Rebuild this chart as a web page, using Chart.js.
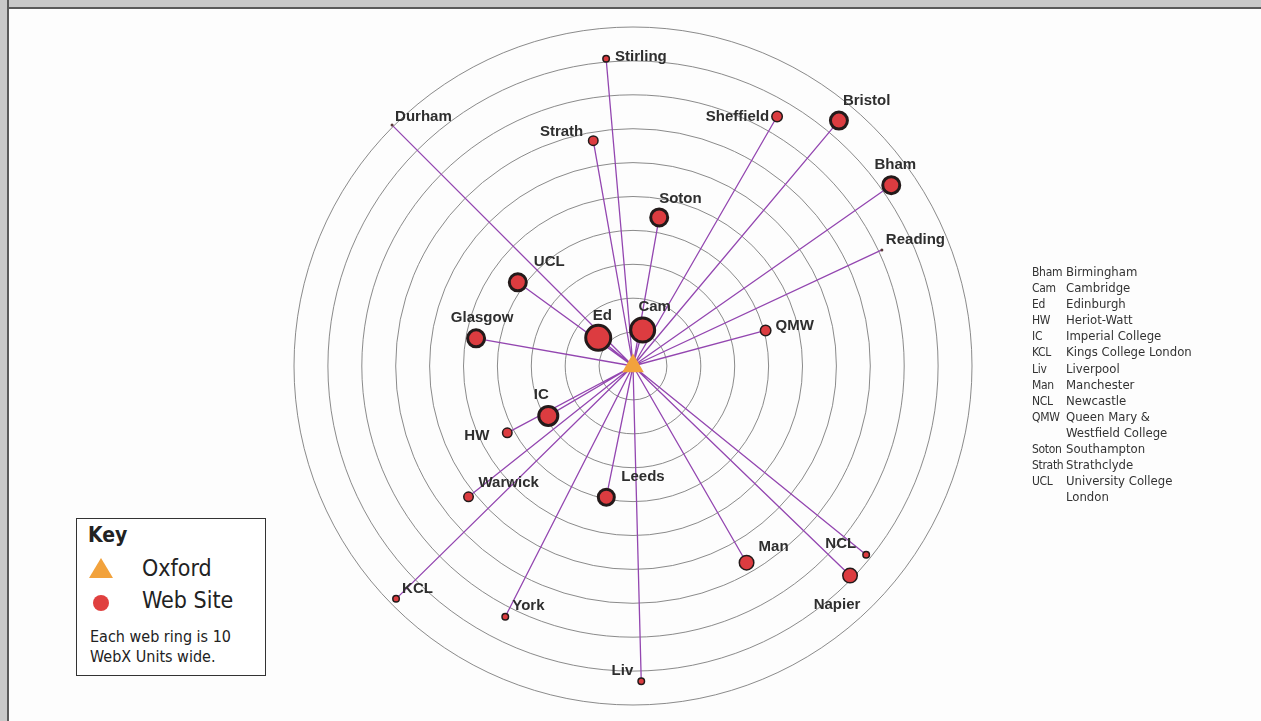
<!DOCTYPE html>
<html>
<head>
<meta charset="utf-8">
<title>Web rings around Oxford</title>
<script src="https://cdn.jsdelivr.net/npm/chart.js@4.4.1/dist/chart.umd.min.js"></script>
<style>
  html, body { margin: 0; padding: 0; background: #fff; }
  #page { position: relative; width: 1261px; height: 721px; overflow: hidden; background: #fdfdfd; }
  #chart { position: absolute; left: 0; top: 0; }
  .band-top { position: absolute; left: 0; top: 0; width: 1261px; height: 7px; background: #c9c9c9; border-bottom: 2px solid #5a5a5a; }
  .band-left { position: absolute; left: 0; top: 0; width: 7px; height: 721px; background: #c9c9c9; border-right: 2px solid #5a5a5a; }
  #key { position: absolute; left: 76px; top: 518px; width: 188px; height: 156px; border: 1.5px solid #333; background: #fff;
         font-family: "DejaVu Sans Condensed", "Liberation Sans Narrow", sans-serif; color: #222; }
  #key .title { position: absolute; left: 11px; top: 4px; font-weight: bold; font-size: 21px; }
  #key .row { position: absolute; left: 65px; font-size: 23px; }
  #key .note { position: absolute; left: 13px; top: 108px; font-size: 16px; line-height: 20px; }
  #key svg { position: absolute; left: 0; top: 0; }
  #abbr { position: absolute; left: 1032px; top: 264px; display: grid; grid-template-columns: 34px auto;
          font-family: "DejaVu Sans Condensed", "Liberation Sans Narrow", sans-serif; font-size: 13px; line-height: 16.1px; color: #333; }
  #abbr .code { font-size: 12px; letter-spacing: -0.3px; }
</style>
</head>
<body>
<div id="page">
  <canvas id="chart" width="1261" height="721"></canvas>
  <div class="band-top"></div>
  <div class="band-left"></div>
  <div id="key">
    <svg width="188" height="156">
      <polygon points="24,39 12,59 36,59" fill="#f2a23c"/>
      <circle cx="24" cy="84" r="8" fill="#e0403f"/>
    </svg>
    <div class="title">Key</div>
    <div class="row" style="top:36px">Oxford</div>
    <div class="row" style="top:68px">Web Site</div>
    <div class="note">Each web ring is 10<br>WebX Units wide.</div>
  </div>
  <div id="abbr"></div>
</div>

<script>
// ── Data ──
const siteNames = ["Stirling", "Durham", "Strath", "Sheffield", "Bristol", "Bham", "Reading", "Soton",
  "UCL", "Glasgow", "Ed", "Cam", "QMW", "IC", "HW", "Warwick", "Leeds", "KCL", "York", "Liv",
  "Man", "NCL", "Napier"];
// distance from Oxford in WebX units
const siteDistance = [91, 100.5, 67.5, 85, 94.5, 93, 81, 44.5,
  42, 47, 13.2, 11, 40.5, 29, 42, 62, 39.5, 98, 83, 93,
  67, 88.5, 89];
// bearing round Oxford, degrees anticlockwise from east
const siteBearing = [95, 135, 100, 60, 50, 35, 25, 80,
  144, 170, 141, 75, 15, 210.5, 208, 218.5, 258.5, 224.5, 243, 271.5,
  300, 321, 316];
// marker size of each site
const siteSize = [4, 1.5, 5.5, 6, 10, 10, 1.5, 10,
  10, 10, 14, 13.5, 6, 11, 5.5, 5.5, 9.5, 4, 4, 4,
  8, 4, 8];

const ringValues = [10, 20, 30, 40, 50, 60, 70, 80, 90, 100];

const abbrevCodes = ["Bham", "Cam", "Ed", "HW", "IC", "KCL", "Liv", "Man", "NCL", "QMW", "", "Soton", "Strath", "UCL", ""];
const abbrevNames = ["Birmingham", "Cambridge", "Edinburgh", "Heriot-Watt", "Imperial College", "Kings College London",
  "Liverpool", "Manchester", "Newcastle", "Queen Mary &", "Westfield College", "Southampton", "Strathclyde",
  "University College", "London"];

// label placement next to each dot: [dx, dy, align]
const labelPlace = {
  Stirling: [9, -2, "left"], Durham: [3, -8, "left"], Strath: [-10, -9, "right"],
  Sheffield: [-8, 0, "right"], Bristol: [4, -20, "left"], Bham: [4, -20, "center"],
  Reading: [4, -10, "left"], Soton: [0, -19, "left"], UCL: [16, -20, "left"],
  Glasgow: [6, -20, "center"], Ed: [4, -22, "center"], Cam: [12, -23, "center"],
  QMW: [10, -5, "left"], IC: [-7, -21, "center"], HW: [-18, 3, "right"],
  Warwick: [10, -14, "left"], Leeds: [15, -20, "left"], KCL: [6, -10, "left"],
  York: [7, -11, "left"], Liv: [-8, -10, "right"], Man: [12, -16, "left"],
  NCL: [-10, -11, "right"], Napier: [-13, 29, "center"]
};

// ── Abbreviation list ──
document.getElementById("abbr").innerHTML = abbrevCodes.map((c, i) =>
  `<div class="code">${c}</div><div>${abbrevNames[i]}</div>`).join("");

// ── Points ──
const sitePoints = siteNames.map((n, i) => {
  const a = siteBearing[i] * Math.PI / 180;
  return { x: siteDistance[i] * Math.cos(a), y: siteDistance[i] * Math.sin(a), name: n };
});
const spokes = [];
sitePoints.forEach(p => { spokes.push({ x: 0, y: 0 }); spokes.push({ x: p.x, y: p.y }); });

const borderW = siteSize.map(s => s >= 9 ? 3 : s > 2 ? 1.5 : 0);

// ── Plugins ──
const ringsPlugin = {
  id: "rings",
  beforeDatasetsDraw(chart) {
    const { ctx, scales: { x, y } } = chart;
    const cx = x.getPixelForValue(0), cy = y.getPixelForValue(0);
    ctx.save();
    ctx.strokeStyle = "#7d7d7d";
    ctx.lineWidth = 0.9;
    ringValues.forEach(v => {
      const r = x.getPixelForValue(v) - cx;
      ctx.beginPath();
      ctx.arc(cx, cy, r, 0, Math.PI * 2);
      ctx.stroke();
    });
    ctx.restore();
  }
};

const labelPlugin = {
  id: "siteLabels",
  afterDatasetsDraw(chart) {
    const { ctx } = chart;
    const meta = chart.getDatasetMeta(1);
    ctx.save();
    ctx.font = 'bold 15px "Liberation Sans", Arial, sans-serif';
    ctx.fillStyle = "#2e2e2e";
    ctx.textBaseline = "middle";
    meta.data.forEach((pt, i) => {
      const name = siteNames[i];
      const [dx, dy, align] = labelPlace[name];
      ctx.textAlign = align;
      ctx.fillText(name, pt.x + dx, pt.y + dy);
    });
    ctx.restore();
  }
};

// pixels per WebX unit and where Oxford sits on the page
const PX = 3.39, OX = 633, OY = 366;

new Chart(document.getElementById("chart").getContext("2d"), {
  type: "scatter",
  data: {
    datasets: [
      {
        type: "line",
        data: spokes,
        borderColor: "#9346b0",
        borderWidth: 1.3,
        pointRadius: 0,
        fill: false,
        tension: 0,
        order: 3
      },
      {
        data: sitePoints,
        backgroundColor: siteSize.map(s => s > 2 ? "#dc3c40" : "#5a3a3a"),
        borderColor: "#231a1a",
        borderWidth: borderW,
        pointRadius: siteSize.map((s, i) => s - borderW[i] / 2),
        pointHoverRadius: siteSize.map((s, i) => s - borderW[i] / 2),
        order: 2
      },
      {
        data: [{ x: 0, y: 0 }],
        pointStyle: "triangle",
        backgroundColor: "#f2a23c",
        borderWidth: 0,
        pointRadius: 12.5,
        order: 1
      }
    ]
  },
  options: {
    responsive: false,
    animation: false,
    events: [],
    layout: { padding: 0, autoPadding: false },
    plugins: { legend: { display: false }, tooltip: { enabled: false } },
    scales: {
      x: { type: "linear", display: false, min: -OX / PX, max: (1261 - OX) / PX },
      y: { type: "linear", display: false, min: -(721 - OY) / PX, max: OY / PX }
    }
  },
  plugins: [ringsPlugin, labelPlugin]
});
</script>
</body>
</html>
